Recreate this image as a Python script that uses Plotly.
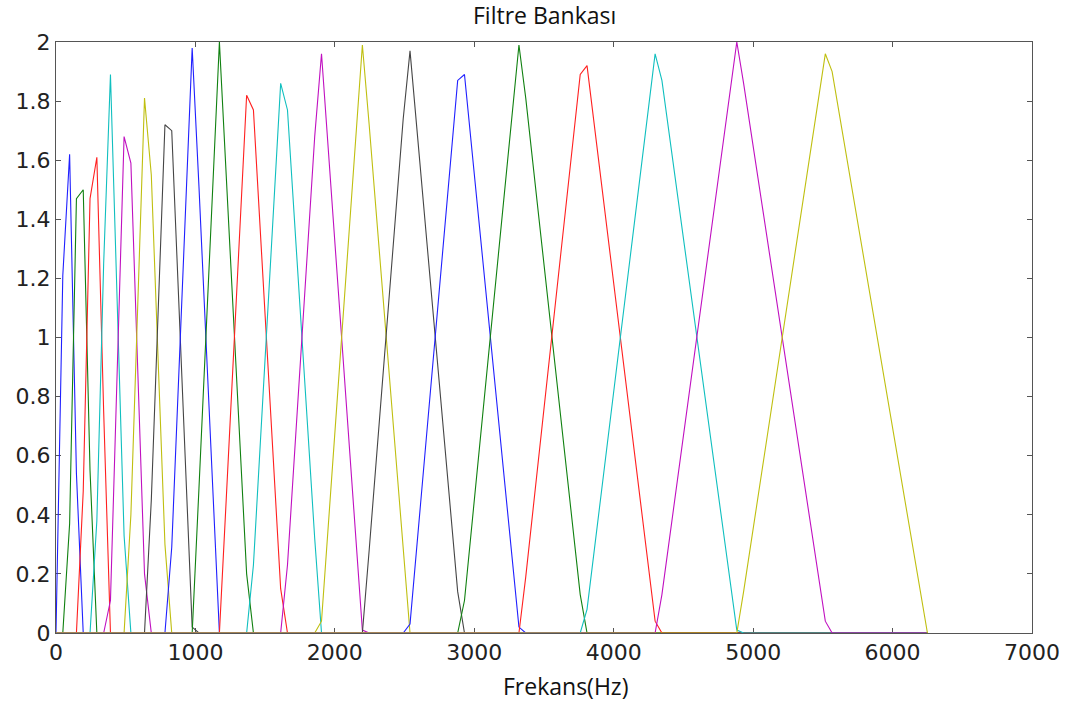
import plotly.graph_objects as go

# Mel filter bank: 20 triangular filters sampled on the FFT bin grid (Hz)
FREQ_MAX = 6250.0

filter_freqs = [
    [0.0, 48.8, 97.7, 146.5, 195.3],
    [48.8, 97.7, 146.5, 195.3, 244.1, 293.0],
    [146.5, 195.3, 244.1, 293.0, 341.8, 390.6],
    [244.1, 293.0, 341.8, 390.6, 439.5, 488.3, 537.1],
    [341.8, 390.6, 439.5, 488.3, 537.1, 585.9, 634.8, 683.6],
    [488.3, 537.1, 585.9, 634.8, 683.6, 732.4, 781.3, 830.1],
    [634.8, 683.6, 732.4, 781.3, 830.1, 878.9, 927.7, 976.6, 1025.4],
    [781.3, 830.1, 976.6, 1025.4, 1171.9, 1220.7],
    [976.6, 1025.4, 1171.9, 1220.7, 1367.2, 1416.0],
    [1171.9, 1220.7, 1367.2, 1416.0, 1611.3, 1660.2],
    [1367.2, 1416.0, 1611.3, 1660.2, 1855.5, 1904.3],
    [1611.3, 1660.2, 1855.5, 1904.3, 2197.3, 2246.1],
    [1855.5, 1904.3, 2197.3, 2246.1, 2490.2, 2539.1],
    [2197.3, 2246.1, 2490.2, 2539.1, 2880.9, 2929.7],
    [2490.2, 2539.1, 2880.9, 2929.7, 3320.3, 3369.1],
    [2880.9, 2929.7, 3320.3, 3369.1, 3759.8, 3808.6],
    [3320.3, 3369.1, 3759.8, 3808.6, 4296.9, 4345.7],
    [3759.8, 3808.6, 4296.9, 4345.7, 4882.8, 4931.6],
    [4296.9, 4345.7, 4882.8, 4931.6, 5517.6, 5566.4],
    [4882.8, 4931.6, 5517.6, 5566.4, 6201.2, 6250.0],
]

filter_gains = [
    [0, 1.21, 1.62, 0.54, 0],
    [0, 0.37, 1.47, 1.50, 0.55, 0],
    [0, 0.48, 1.47, 1.61, 0.75, 0],
    [0, 0.38, 1.25, 1.89, 1.11, 0.33, 0],
    [0, 0.11, 0.89, 1.68, 1.59, 0.90, 0.20, 0],
    [0, 0.40, 1.10, 1.81, 1.55, 0.93, 0.30, 0],
    [0, 0.45, 1.08, 1.72, 1.70, 1.14, 0.58, 0.02, 0],
    [0, 0.29, 1.98, 1.51, 0.00, 0],
    [0, 0.49, 2.00, 1.55, 0.20, 0],
    [0, 0.45, 1.82, 1.77, 0.15, 0],
    [0, 0.23, 1.86, 1.77, 0.32, 0],
    [0, 0.23, 1.68, 1.96, 0.01, 0],
    [0, 0.04, 1.99, 1.72, 0.26, 0],
    [0, 0.28, 1.74, 1.97, 0.14, 0],
    [0, 0.03, 1.87, 1.89, 0.02, 0],
    [0, 0.11, 1.99, 1.81, 0.13, 0],
    [0, 0.19, 1.89, 1.92, 0.04, 0],
    [0, 0.08, 1.96, 1.87, 0.01, 0],
    [0, 0.13, 2.00, 1.86, 0.04, 0],
    [0, 0.14, 1.96, 1.90, 0.14, 0],
]

# Classic colour order: b, g, r, c, m, y, k
line_colors = ["#2020ff", "#108010", "#ff2020", "#10bfbf", "#c010c0", "#bfbf10", "#454545"]

x_ticks = [0, 1000, 2000, 3000, 4000, 5000, 6000, 7000]
y_ticks = [0, 0.2, 0.4, 0.6, 0.8, 1, 1.2, 1.4, 1.6, 1.8, 2]
y_tick_text = ["0", "0.2", "0.4", "0.6", "0.8", "1", "1.2", "1.4", "1.6", "1.8", "2"]

fig = go.Figure()
for i, (fx, gy) in enumerate(zip(filter_freqs, filter_gains)):
    xs, ys = list(fx), list(gy)
    # each filter spans the whole band, zero outside its triangle
    if xs[0] > 0:
        xs, ys = [0.0] + xs, [0] + ys
    if xs[-1] < FREQ_MAX:
        xs, ys = xs + [FREQ_MAX], ys + [0]
    fig.add_trace(go.Scatter(
        x=xs, y=ys, mode="lines",
        line=dict(color=line_colors[i % len(line_colors)], width=1.1),
        showlegend=False, hoverinfo="skip",
    ))

axis_color = "#555555"
tick_font = dict(family="DejaVu Sans", size=22, color="#222222")

fig.update_xaxes(
    range=[0, 7000], tickvals=x_ticks, ticktext=[str(v) for v in x_ticks],
    ticks="inside", ticklen=5, tickcolor=axis_color, tickwidth=1,
    showline=True, linecolor=axis_color, linewidth=1, mirror="allticks",
    showgrid=False, zeroline=False, tickfont=tick_font, layer="below traces",
)
fig.update_yaxes(
    range=[0, 2], tickvals=y_ticks, ticktext=y_tick_text,
    ticks="inside", ticklen=5, tickcolor=axis_color, tickwidth=1,
    showline=True, linecolor=axis_color, linewidth=1, mirror="allticks",
    showgrid=False, zeroline=False, tickfont=tick_font, layer="below traces",
)

label_font = dict(family="Open Sans", size=23, color="#111111")
fig.add_annotation(text="Filtre Bankası", xref="paper", yref="paper",
                   x=0.5, y=1.045, xanchor="center", yanchor="middle",
                   showarrow=False, font=label_font)
fig.add_annotation(text="Frekans(Hz)", xref="paper", yref="paper",
                   x=0.5225, y=-0.0897, xanchor="center", yanchor="middle",
                   showarrow=False, font=label_font)

fig.update_layout(
    width=1078, height=702,
    margin=dict(l=56, r=46, t=42, b=69),
    paper_bgcolor="white", plot_bgcolor="white",
)

fig.write_html("out.html")
